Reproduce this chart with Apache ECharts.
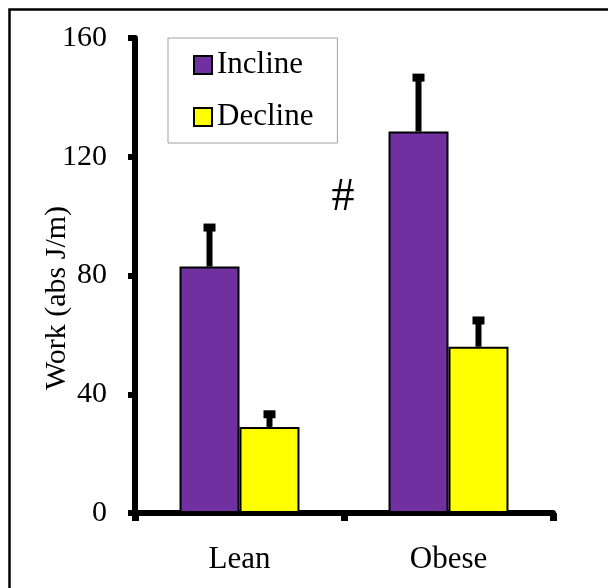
<!DOCTYPE html>
<html><head><meta charset="utf-8">
<script src="https://cdn.jsdelivr.net/npm/echarts@6/dist/echarts.min.js"></script>
<style>html,body{margin:0;padding:0;background:#fff}#c{width:608px;height:588px}</style>
</head><body><div id="c"></div>
<script>
const categories = ['Lean', 'Obese'];
const seriesNames = ['Incline', 'Decline'];
const inclineMean = [83, 128.5];
const inclineSE = [14.5, 19.5];
const declineMean = [29, 56];
const declineSE = [5.6, 10.2];
const yMin = 0, yMax = 160, yStep = 40;
const yTitle = 'Work (abs J/m)';
const annotation = '#';

const FONT = 'Liberation Serif';
const GAP = 0.426;
const colors = ['#7030a0', '#ffff00'];

function errRender(idx) {
  return function (params, api) {
    const c = api.value(0);
    const base = api.coord([c, api.value(1)]);
    const top = api.coord([c, api.value(2)]);
    const band = api.size([1, 0])[0];
    const bw = band * (1 - GAP) / 2;
    const x = base[0] + (idx - 0.5) * bw;
    return {
      type: 'group',
      children: [
        { type: 'line', shape: { x1: x, y1: base[1], x2: x, y2: top[1] + 4 }, style: { stroke: '#000', lineWidth: 6 } },
        { type: 'rect', shape: { x: x - 6, y: top[1], width: 12, height: 8 }, style: { fill: '#000' } }
      ]
    };
  };
}
function errData(means, ses) {
  return means.map((m, i) => [i, m, m + ses[i]]);
}

const chart = echarts.init(document.getElementById('c'), null, { renderer: 'canvas' });
chart.setOption({
  animation: false,
  backgroundColor: '#fff',
  textStyle: { fontFamily: FONT },
  grid: { left: 135, right: 55, top: 38, bottom: 75, containLabel: false },
  legend: {
    data: seriesNames,
    orient: 'vertical',
    left: 168, top: 38,
    padding: [10, 24, 9, 25],
    itemGap: 18,
    itemWidth: 18, itemHeight: 18,
    icon: 'rect',
    borderColor: '#a0a0a0', borderWidth: 1,
    itemStyle: { borderColor: '#000', borderWidth: 2 },
    textStyle: { fontFamily: FONT, fontSize: 31, color: '#000', lineHeight: 34 },
    selectedMode: false
  },
  xAxis: {
    type: 'category',
    data: categories,
    axisLine: { lineStyle: { color: '#000', width: 6 } },
    axisTick: { show: true, length: 8, lineStyle: { color: '#000', width: 7 } },
    axisLabel: { fontFamily: FONT, fontSize: 31, color: '#000', margin: 31 }
  },
  yAxis: {
    type: 'value',
    min: yMin, max: yMax, interval: yStep,
    splitLine: { show: false },
    axisLine: { show: true, lineStyle: { color: '#000', width: 6 } },
    axisTick: { show: true, length: 7, lineStyle: { color: '#000', width: 6 } },
    axisLabel: { fontFamily: FONT, fontSize: 30, color: '#000', margin: 28 }
  },
  graphic: [
    { type: 'rect', left: 7, top: 7, shape: { width: 640, height: 640 }, style: { fill: 'none', stroke: '#000', lineWidth: 2.5 }, z: 100 },
    { type: 'text', x: 57, y: 298, rotation: Math.PI / 2, style: { text: yTitle, font: '30px "Liberation Serif"', fill: '#000', align: 'center', verticalAlign: 'middle' } },
    { type: 'text', x: 343, y: 198, style: { text: annotation, font: '46px "Liberation Serif"', fill: '#000', align: 'center', verticalAlign: 'middle' } }
  ],
  series: [
    { name: seriesNames[0], type: 'bar', data: inclineMean, barGap: '0%', barCategoryGap: (GAP * 100) + '%',
      itemStyle: { color: colors[0], borderColor: '#000', borderWidth: 2 } },
    { name: seriesNames[1], type: 'bar', data: declineMean, barGap: '0%', barCategoryGap: (GAP * 100) + '%',
      itemStyle: { color: colors[1], borderColor: '#000', borderWidth: 2 } },
    { type: 'custom', renderItem: errRender(0), data: errData(inclineMean, inclineSE), encode: { x: 0, y: [1, 2] }, z: 5 },
    { type: 'custom', renderItem: errRender(1), data: errData(declineMean, declineSE), encode: { x: 0, y: [1, 2] }, z: 5 }
  ]
});
</script>
</body></html>
